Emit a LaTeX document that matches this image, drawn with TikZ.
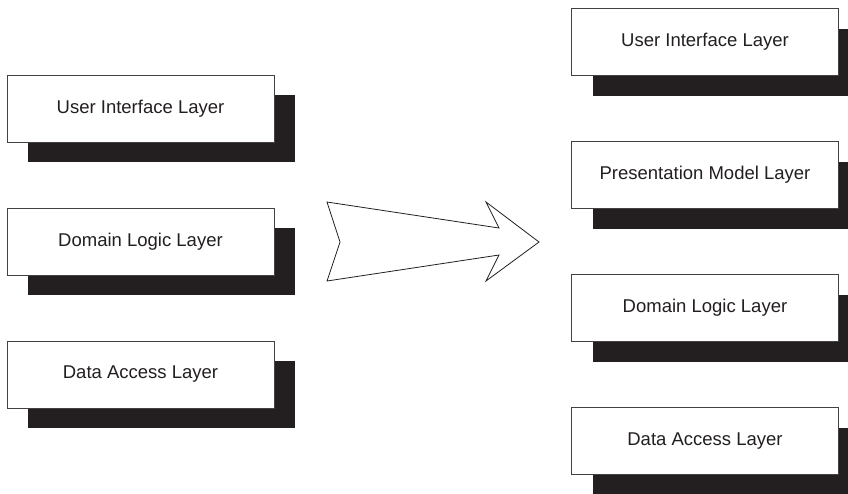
\documentclass[tikz,border=0pt]{standalone}
\usepackage{fontspec}
\setmainfont{Liberation Sans}
\usetikzlibrary{shadows}
\definecolor{layerink}{RGB}{35,31,32}
\begin{document}
\begin{tikzpicture}[x=1pt,y=-1pt,line join=miter,
  layerbox/.style={draw=layerink!85,line width=.8pt,fill=white,
   minimum width=267pt,minimum height=67pt,inner sep=0pt,
   font=\fontsize{18.5}{22}\selectfont,text=layerink,
   general shadow={fill=layerink,shadow xshift=21pt,shadow yshift=-20pt}}]
 \useasboundingbox (0,0) rectangle (848,493);
 % before: three layers
 \node[layerbox] (lui) at (140.5,108.5) {User Interface Layer};
 \node[layerbox] (ldom) at (140.5,241.5) {Domain Logic Layer};
 \node[layerbox] (ldata) at (140.5,374.5) {Data Access Layer};
 % after: four layers
 \node[layerbox] (rui) at (705,42) {User Interface Layer};
 \node[layerbox] (rpm) at (705,175) {Presentation Model Layer};
 \node[layerbox] (rdom) at (705,308) {Domain Logic Layer};
 \node[layerbox] (rdata) at (705,441) {Data Access Layer};
 % block arrow
 \draw[layerink,line width=.8pt]
  (327,202) -- (499,228) -- (486,202) -- (539,242) -- (486,281)
  -- (499,255) -- (327,281) -- (340,242) -- cycle;
\end{tikzpicture}
\end{document}
